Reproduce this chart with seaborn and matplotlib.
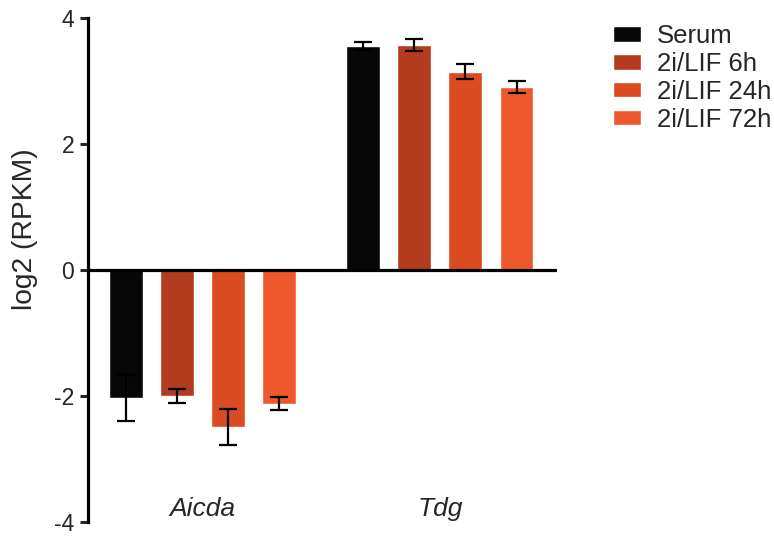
import matplotlib
matplotlib.use("Agg")
import matplotlib.pyplot as plt
import numpy as np
import pandas as pd
import seaborn as sns

GENES = ["Aicda", "Tdg"]
CONDITIONS = ["Serum", "2i/LIF 6h", "2i/LIF 24h", "2i/LIF 72h"]
AICDA_MEAN = [-2.03, -2.00, -2.49, -2.12]
AICDA_ERR = [0.37, 0.105, 0.28, 0.11]
TDG_MEAN = [3.56, 3.57, 3.15, 2.90]
TDG_ERR = [0.065, 0.09, 0.12, 0.095]
COLOURS = ["#070707", "#b33b1e", "#dc4a22", "#ef582d"]

sns.set_style("white")
plt.rcParams["font.family"] = ["Liberation Sans", "DejaVu Sans"]
plt.rcParams["axes.unicode_minus"] = False

df = pd.DataFrame({
    "gene": np.repeat(GENES, len(CONDITIONS)),
    "condition": CONDITIONS * len(GENES),
    "value": AICDA_MEAN + TDG_MEAN,
    "err": AICDA_ERR + TDG_ERR,
})

fig = plt.figure(figsize=(7.74, 5.37), dpi=100)
ax = fig.add_axes([88 / 774, 1 - 522 / 537, (557 - 88) / 774, (522 - 18) / 537])

sns.barplot(data=df, x="gene", y="value", hue="condition", order=GENES,
            hue_order=CONDITIONS, palette=COLOURS, errorbar=None,
            width=0.86, gap=0.335, saturation=1, ax=ax, legend=True)

# error bars on top of each bar
for cond, cont in zip(CONDITIONS, ax.containers):
    sub = df[df["condition"] == cond].set_index("gene").loc[GENES]
    xs = [p.get_x() + p.get_width() / 2 for p in cont.patches]
    ax.errorbar(xs, sub["value"], yerr=sub["err"], fmt="none", ecolor="black",
                elinewidth=1.6, capsize=6.5, capthick=1.6, zorder=5)

ax.axhline(0, color="black", lw=2.3, zorder=6)
ax.set_xlim(-0.482, 1.493)
ax.set_ylim(-4, 4)
ax.set_yticks([-4, -2, 0, 2, 4])
ax.set_xticks([0, 1])
ax.set_xticklabels(GENES, fontstyle="italic", fontsize=19)
ax.tick_params(axis="x", length=0, pad=-18)
ax.tick_params(axis="y", direction="out", length=6, width=2.2, labelsize=16.5,
               left=True, pad=4)
for s in ["top", "right", "bottom"]:
    ax.spines[s].set_visible(False)
ax.spines["left"].set_linewidth(2.3)
ax.spines["left"].set_color("black")
ax.set_xlabel("")
ax.set_ylabel("log2 (RPKM)", fontsize=20.3)
ax.yaxis.set_label_coords(-0.107, 0.581)

ax.legend(loc="upper left", bbox_to_anchor=(613 / 774, 1 - 24 / 537),
          bbox_transform=fig.transFigure, frameon=False, fontsize=18.5,
          handlelength=1.09, handleheight=0.55, handletextpad=0.62,
          labelspacing=0.15, borderaxespad=0, borderpad=0)

fig.savefig("out.png", dpi=100)
